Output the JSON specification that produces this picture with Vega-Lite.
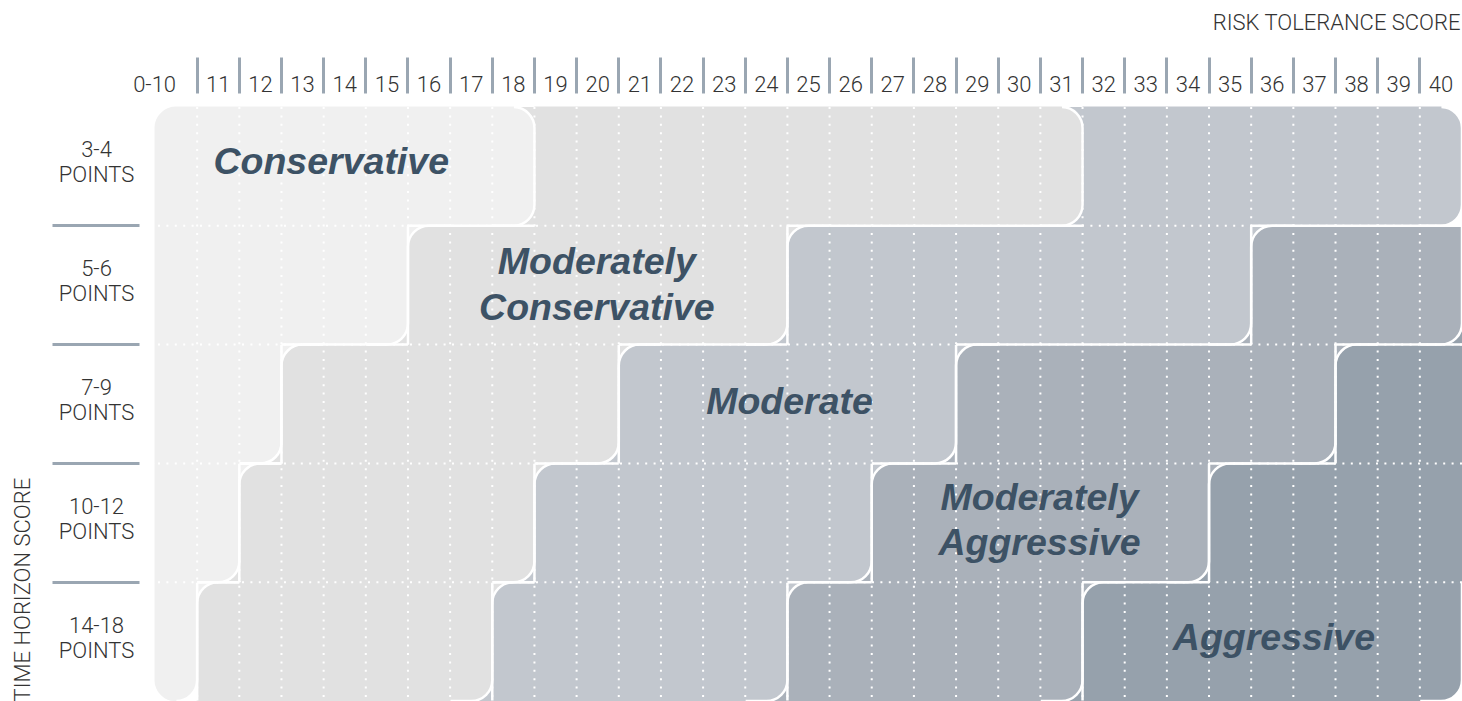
{
  "$schema": "https://vega.github.io/schema/vega-lite/v6.json",
  "width": 1307,
  "height": 594,
  "autosize": {"type": "none"},
  "padding": {"left": 155, "top": 107, "right": 0, "bottom": 0},
  "background": "white",
  "config": {"view": {"stroke": null}},
  "datasets": {
    "cells": [
      {"r":"3-4","t":3,"s":10,"g":"Conservative"},{"r":"3-4","t":3,"s":11,"g":"Conservative"},{"r":"3-4","t":3,"s":12,"g":"Conservative"},{"r":"3-4","t":3,"s":13,"g":"Conservative"},{"r":"3-4","t":3,"s":14,"g":"Conservative"},{"r":"3-4","t":3,"s":15,"g":"Conservative"},{"r":"3-4","t":3,"s":16,"g":"Conservative"},{"r":"3-4","t":3,"s":17,"g":"Conservative"},{"r":"3-4","t":3,"s":18,"g":"Conservative"},
      {"r":"3-4","t":3,"s":19,"g":"Moderately Conservative"},{"r":"3-4","t":3,"s":20,"g":"Moderately Conservative"},{"r":"3-4","t":3,"s":21,"g":"Moderately Conservative"},{"r":"3-4","t":3,"s":22,"g":"Moderately Conservative"},{"r":"3-4","t":3,"s":23,"g":"Moderately Conservative"},{"r":"3-4","t":3,"s":24,"g":"Moderately Conservative"},{"r":"3-4","t":3,"s":25,"g":"Moderately Conservative"},{"r":"3-4","t":3,"s":26,"g":"Moderately Conservative"},{"r":"3-4","t":3,"s":27,"g":"Moderately Conservative"},{"r":"3-4","t":3,"s":28,"g":"Moderately Conservative"},{"r":"3-4","t":3,"s":29,"g":"Moderately Conservative"},{"r":"3-4","t":3,"s":30,"g":"Moderately Conservative"},{"r":"3-4","t":3,"s":31,"g":"Moderately Conservative"},
      {"r":"3-4","t":3,"s":32,"g":"Moderate"},{"r":"3-4","t":3,"s":33,"g":"Moderate"},{"r":"3-4","t":3,"s":34,"g":"Moderate"},{"r":"3-4","t":3,"s":35,"g":"Moderate"},{"r":"3-4","t":3,"s":36,"g":"Moderate"},{"r":"3-4","t":3,"s":37,"g":"Moderate"},{"r":"3-4","t":3,"s":38,"g":"Moderate"},{"r":"3-4","t":3,"s":39,"g":"Moderate"},{"r":"3-4","t":3,"s":40,"g":"Moderate"},

      {"r":"5-6","t":5,"s":10,"g":"Conservative"},{"r":"5-6","t":5,"s":11,"g":"Conservative"},{"r":"5-6","t":5,"s":12,"g":"Conservative"},{"r":"5-6","t":5,"s":13,"g":"Conservative"},{"r":"5-6","t":5,"s":14,"g":"Conservative"},{"r":"5-6","t":5,"s":15,"g":"Conservative"},
      {"r":"5-6","t":5,"s":16,"g":"Moderately Conservative"},{"r":"5-6","t":5,"s":17,"g":"Moderately Conservative"},{"r":"5-6","t":5,"s":18,"g":"Moderately Conservative"},{"r":"5-6","t":5,"s":19,"g":"Moderately Conservative"},{"r":"5-6","t":5,"s":20,"g":"Moderately Conservative"},{"r":"5-6","t":5,"s":21,"g":"Moderately Conservative"},{"r":"5-6","t":5,"s":22,"g":"Moderately Conservative"},{"r":"5-6","t":5,"s":23,"g":"Moderately Conservative"},{"r":"5-6","t":5,"s":24,"g":"Moderately Conservative"},
      {"r":"5-6","t":5,"s":25,"g":"Moderate"},{"r":"5-6","t":5,"s":26,"g":"Moderate"},{"r":"5-6","t":5,"s":27,"g":"Moderate"},{"r":"5-6","t":5,"s":28,"g":"Moderate"},{"r":"5-6","t":5,"s":29,"g":"Moderate"},{"r":"5-6","t":5,"s":30,"g":"Moderate"},{"r":"5-6","t":5,"s":31,"g":"Moderate"},{"r":"5-6","t":5,"s":32,"g":"Moderate"},{"r":"5-6","t":5,"s":33,"g":"Moderate"},{"r":"5-6","t":5,"s":34,"g":"Moderate"},{"r":"5-6","t":5,"s":35,"g":"Moderate"},
      {"r":"5-6","t":5,"s":36,"g":"Moderately Aggressive"},{"r":"5-6","t":5,"s":37,"g":"Moderately Aggressive"},{"r":"5-6","t":5,"s":38,"g":"Moderately Aggressive"},{"r":"5-6","t":5,"s":39,"g":"Moderately Aggressive"},{"r":"5-6","t":5,"s":40,"g":"Moderately Aggressive"},

      {"r":"7-9","t":7,"s":10,"g":"Conservative"},{"r":"7-9","t":7,"s":11,"g":"Conservative"},{"r":"7-9","t":7,"s":12,"g":"Conservative"},
      {"r":"7-9","t":7,"s":13,"g":"Moderately Conservative"},{"r":"7-9","t":7,"s":14,"g":"Moderately Conservative"},{"r":"7-9","t":7,"s":15,"g":"Moderately Conservative"},{"r":"7-9","t":7,"s":16,"g":"Moderately Conservative"},{"r":"7-9","t":7,"s":17,"g":"Moderately Conservative"},{"r":"7-9","t":7,"s":18,"g":"Moderately Conservative"},{"r":"7-9","t":7,"s":19,"g":"Moderately Conservative"},{"r":"7-9","t":7,"s":20,"g":"Moderately Conservative"},
      {"r":"7-9","t":7,"s":21,"g":"Moderate"},{"r":"7-9","t":7,"s":22,"g":"Moderate"},{"r":"7-9","t":7,"s":23,"g":"Moderate"},{"r":"7-9","t":7,"s":24,"g":"Moderate"},{"r":"7-9","t":7,"s":25,"g":"Moderate"},{"r":"7-9","t":7,"s":26,"g":"Moderate"},{"r":"7-9","t":7,"s":27,"g":"Moderate"},{"r":"7-9","t":7,"s":28,"g":"Moderate"},
      {"r":"7-9","t":7,"s":29,"g":"Moderately Aggressive"},{"r":"7-9","t":7,"s":30,"g":"Moderately Aggressive"},{"r":"7-9","t":7,"s":31,"g":"Moderately Aggressive"},{"r":"7-9","t":7,"s":32,"g":"Moderately Aggressive"},{"r":"7-9","t":7,"s":33,"g":"Moderately Aggressive"},{"r":"7-9","t":7,"s":34,"g":"Moderately Aggressive"},{"r":"7-9","t":7,"s":35,"g":"Moderately Aggressive"},{"r":"7-9","t":7,"s":36,"g":"Moderately Aggressive"},{"r":"7-9","t":7,"s":37,"g":"Moderately Aggressive"},
      {"r":"7-9","t":7,"s":38,"g":"Aggressive"},{"r":"7-9","t":7,"s":39,"g":"Aggressive"},{"r":"7-9","t":7,"s":40,"g":"Aggressive"},

      {"r":"10-12","t":10,"s":10,"g":"Conservative"},{"r":"10-12","t":10,"s":11,"g":"Conservative"},
      {"r":"10-12","t":10,"s":12,"g":"Moderately Conservative"},{"r":"10-12","t":10,"s":13,"g":"Moderately Conservative"},{"r":"10-12","t":10,"s":14,"g":"Moderately Conservative"},{"r":"10-12","t":10,"s":15,"g":"Moderately Conservative"},{"r":"10-12","t":10,"s":16,"g":"Moderately Conservative"},{"r":"10-12","t":10,"s":17,"g":"Moderately Conservative"},{"r":"10-12","t":10,"s":18,"g":"Moderately Conservative"},
      {"r":"10-12","t":10,"s":19,"g":"Moderate"},{"r":"10-12","t":10,"s":20,"g":"Moderate"},{"r":"10-12","t":10,"s":21,"g":"Moderate"},{"r":"10-12","t":10,"s":22,"g":"Moderate"},{"r":"10-12","t":10,"s":23,"g":"Moderate"},{"r":"10-12","t":10,"s":24,"g":"Moderate"},{"r":"10-12","t":10,"s":25,"g":"Moderate"},{"r":"10-12","t":10,"s":26,"g":"Moderate"},
      {"r":"10-12","t":10,"s":27,"g":"Moderately Aggressive"},{"r":"10-12","t":10,"s":28,"g":"Moderately Aggressive"},{"r":"10-12","t":10,"s":29,"g":"Moderately Aggressive"},{"r":"10-12","t":10,"s":30,"g":"Moderately Aggressive"},{"r":"10-12","t":10,"s":31,"g":"Moderately Aggressive"},{"r":"10-12","t":10,"s":32,"g":"Moderately Aggressive"},{"r":"10-12","t":10,"s":33,"g":"Moderately Aggressive"},{"r":"10-12","t":10,"s":34,"g":"Moderately Aggressive"},
      {"r":"10-12","t":10,"s":35,"g":"Aggressive"},{"r":"10-12","t":10,"s":36,"g":"Aggressive"},{"r":"10-12","t":10,"s":37,"g":"Aggressive"},{"r":"10-12","t":10,"s":38,"g":"Aggressive"},{"r":"10-12","t":10,"s":39,"g":"Aggressive"},{"r":"10-12","t":10,"s":40,"g":"Aggressive"},

      {"r":"14-18","t":14,"s":10,"g":"Conservative"},
      {"r":"14-18","t":14,"s":11,"g":"Moderately Conservative"},{"r":"14-18","t":14,"s":12,"g":"Moderately Conservative"},{"r":"14-18","t":14,"s":13,"g":"Moderately Conservative"},{"r":"14-18","t":14,"s":14,"g":"Moderately Conservative"},{"r":"14-18","t":14,"s":15,"g":"Moderately Conservative"},{"r":"14-18","t":14,"s":16,"g":"Moderately Conservative"},{"r":"14-18","t":14,"s":17,"g":"Moderately Conservative"},
      {"r":"14-18","t":14,"s":18,"g":"Moderate"},{"r":"14-18","t":14,"s":19,"g":"Moderate"},{"r":"14-18","t":14,"s":20,"g":"Moderate"},{"r":"14-18","t":14,"s":21,"g":"Moderate"},{"r":"14-18","t":14,"s":22,"g":"Moderate"},{"r":"14-18","t":14,"s":23,"g":"Moderate"},{"r":"14-18","t":14,"s":24,"g":"Moderate"},
      {"r":"14-18","t":14,"s":25,"g":"Moderately Aggressive"},{"r":"14-18","t":14,"s":26,"g":"Moderately Aggressive"},{"r":"14-18","t":14,"s":27,"g":"Moderately Aggressive"},{"r":"14-18","t":14,"s":28,"g":"Moderately Aggressive"},{"r":"14-18","t":14,"s":29,"g":"Moderately Aggressive"},{"r":"14-18","t":14,"s":30,"g":"Moderately Aggressive"},{"r":"14-18","t":14,"s":31,"g":"Moderately Aggressive"},
      {"r":"14-18","t":14,"s":32,"g":"Aggressive"},{"r":"14-18","t":14,"s":33,"g":"Aggressive"},{"r":"14-18","t":14,"s":34,"g":"Aggressive"},{"r":"14-18","t":14,"s":35,"g":"Aggressive"},{"r":"14-18","t":14,"s":36,"g":"Aggressive"},{"r":"14-18","t":14,"s":37,"g":"Aggressive"},{"r":"14-18","t":14,"s":38,"g":"Aggressive"},{"r":"14-18","t":14,"s":39,"g":"Aggressive"},{"r":"14-18","t":14,"s":40,"g":"Aggressive"}
    ],
    "labels": [
      {"g":"Conservative","txt":"Conservative","r":"3-4","s":14},
      {"g":"Moderately Conservative","txt":"Moderately\nConservative","r":"5-6","s":20},
      {"g":"Moderate","txt":"Moderate","r":"7-9","s":25},
      {"g":"Moderately Aggressive","txt":"Moderately\nAggressive","r":"10-12","s":30},
      {"g":"Aggressive","txt":"Aggressive","r":"14-18","s":36}
    ]
  },
  "layer": [
    {
      "data": {"name": "cells"},
      "transform": [
        {"window": [{"op": "lag", "field": "g", "as": "above"}, {"op": "lead", "field": "g", "as": "below"}], "groupby": ["s"], "sort": [{"field": "t", "order": "ascending"}]},
        {"window": [{"op": "lag", "field": "g", "as": "left"}, {"op": "lead", "field": "g", "as": "right"}], "groupby": ["t"], "sort": [{"field": "s", "order": "ascending"}]}
      ],
      "encoding": {
        "x": {
          "field": "s", "type": "ordinal",
          "scale": {"paddingInner": 0, "paddingOuter": 0},
          "axis": {
            "orient": "top", "title": "RISK TOLERANCE SCORE", "offset": 14, "domain": false, "grid": false,
            "bandPosition": 0, "tickSize": 36, "tickWidth": 3, "tickColor": "#9aa6b2",
            "tickOpacity": {"condition": {"test": "datum.value == 10", "value": 0}, "value": 1},
            "labelExpr": "datum.value == 10 ? '0-10' : datum.label",
            "labelAngle": 0, "labelFont": "Roboto", "labelFontWeight": 300, "labelFontSize": 22, "labelColor": "#333333",
            "labelPadding": -34, "labelBaseline": "alphabetic",
            "labelAlign": {"condition": {"test": "datum.value == 10", "value": "right"}, "value": "center"},
            "labelOverlap": false, "labelBound": false, "labelFlush": false,
            "titleFont": "Roboto", "titleFontWeight": 300, "titleFontSize": 22, "titleColor": "#333333",
            "titleAlign": "right", "titleBaseline": "alphabetic", "titleX": 1305, "titleY": -64,
            "zindex": 1
          }
        },
        "y": {
          "field": "r", "type": "ordinal", "sort": ["3-4", "5-6", "7-9", "10-12", "14-18"],
          "scale": {"paddingInner": 0, "paddingOuter": 0},
          "axis": {
            "orient": "left", "title": "TIME HORIZON SCORE", "offset": 16, "domain": false, "grid": false,
            "bandPosition": 0, "tickSize": 87, "tickWidth": 3, "tickColor": "#9aa6b2",
            "tickOpacity": {"condition": {"test": "datum.value == '3-4'", "value": 0}, "value": 1},
            "labelExpr": "[datum.label, 'POINTS']",
            "labelAlign": "center", "labelBaseline": "middle", "labelPadding": -44, "labelOffset": -16, "labelLineHeight": 25,
            "labelFont": "Roboto", "labelFontWeight": 300, "labelFontSize": 22, "labelColor": "#333333",
            "labelOverlap": false, "labelBound": false,
            "titleFont": "Roboto", "titleFontWeight": 300, "titleFontSize": 22, "titleColor": "#333333",
            "titleAngle": 270, "titleAlign": "left", "titleBaseline": "alphabetic", "titleX": -109.5, "titleY": 594,
            "zindex": 1
          }
        }
      },
      "layer": [
        {
          "transform": [{"filter": "((datum.right != datum.g && datum.below != datum.g) || (datum.above == null && datum.right != datum.g)) && !(datum.left == null && datum.below == null) && datum.right != null"}],
          "mark": {"type": "rect"},
          "encoding": {"fill": {"field": "right", "type": "nominal", "scale": {"domain": ["Conservative", "Moderately Conservative", "Moderate", "Moderately Aggressive", "Aggressive"], "range": ["#f0f0f0", "#e1e1e1", "#c2c7ce", "#aab1ba", "#96a1ac"]}, "legend": null}}
        },
        {
          "transform": [{"filter": "datum.right == null && datum.below != null && datum.above != null && datum.below != datum.g"}],
          "mark": {"type": "rect"},
          "encoding": {"fill": {"field": "below", "type": "nominal", "scale": {"domain": ["Conservative", "Moderately Conservative", "Moderate", "Moderately Aggressive", "Aggressive"], "range": ["#f0f0f0", "#e1e1e1", "#c2c7ce", "#aab1ba", "#96a1ac"]}, "legend": null}}
        },
        {
          "transform": [{"filter": "datum.left != null && datum.left != datum.g && datum.above != datum.g && datum.above != null"}],
          "mark": {"type": "rect"},
          "encoding": {"fill": {"field": "left", "type": "nominal", "scale": {"domain": ["Conservative", "Moderately Conservative", "Moderate", "Moderately Aggressive", "Aggressive"], "range": ["#f0f0f0", "#e1e1e1", "#c2c7ce", "#aab1ba", "#96a1ac"]}, "legend": null}}
        },
        {
          "transform": [{"filter": "!(datum.left != datum.g && datum.above != datum.g && (datum.above != null || datum.left == null)) && !(datum.right != datum.g && datum.below != datum.g) && !(datum.above == null && datum.right != datum.g) && !(datum.left == null && datum.below == null)"}],
          "mark": {"type": "rect", "strokeWidth": 1},
          "encoding": {
            "fill": {"field": "g", "type": "nominal", "scale": {"domain": ["Conservative", "Moderately Conservative", "Moderate", "Moderately Aggressive", "Aggressive"], "range": ["#f0f0f0", "#e1e1e1", "#c2c7ce", "#aab1ba", "#96a1ac"]}, "legend": null},
            "stroke": {"field": "g", "type": "nominal", "scale": {"domain": ["Conservative", "Moderately Conservative", "Moderate", "Moderately Aggressive", "Aggressive"], "range": ["#f0f0f0", "#e1e1e1", "#c2c7ce", "#aab1ba", "#96a1ac"]}, "legend": null}
          }
        },
        {
          "transform": [{"filter": "datum.left != datum.g && datum.above != datum.g && (datum.above != null || datum.left == null)"}],
          "mark": {"type": "rect", "strokeWidth": 1, "cornerRadiusTopLeft": 21},
          "encoding": {
            "fill": {"field": "g", "type": "nominal", "scale": {"domain": ["Conservative", "Moderately Conservative", "Moderate", "Moderately Aggressive", "Aggressive"], "range": ["#f0f0f0", "#e1e1e1", "#c2c7ce", "#aab1ba", "#96a1ac"]}, "legend": null},
            "stroke": {"field": "g", "type": "nominal", "scale": {"domain": ["Conservative", "Moderately Conservative", "Moderate", "Moderately Aggressive", "Aggressive"], "range": ["#f0f0f0", "#e1e1e1", "#c2c7ce", "#aab1ba", "#96a1ac"]}, "legend": null}
          }
        },
        {
          "transform": [{"filter": "(datum.right != datum.g && datum.below != datum.g) && !(datum.above == null && datum.right != datum.g) && !(datum.left == null && datum.below == null)"}],
          "mark": {"type": "rect", "strokeWidth": 1, "cornerRadiusBottomRight": 21},
          "encoding": {
            "fill": {"field": "g", "type": "nominal", "scale": {"domain": ["Conservative", "Moderately Conservative", "Moderate", "Moderately Aggressive", "Aggressive"], "range": ["#f0f0f0", "#e1e1e1", "#c2c7ce", "#aab1ba", "#96a1ac"]}, "legend": null},
            "stroke": {"field": "g", "type": "nominal", "scale": {"domain": ["Conservative", "Moderately Conservative", "Moderate", "Moderately Aggressive", "Aggressive"], "range": ["#f0f0f0", "#e1e1e1", "#c2c7ce", "#aab1ba", "#96a1ac"]}, "legend": null}
          }
        },
        {
          "transform": [{"filter": "datum.above == null && datum.right != datum.g"}],
          "mark": {"type": "rect", "strokeWidth": 1, "cornerRadiusTopRight": 21, "cornerRadiusBottomRight": 21},
          "encoding": {
            "fill": {"field": "g", "type": "nominal", "scale": {"domain": ["Conservative", "Moderately Conservative", "Moderate", "Moderately Aggressive", "Aggressive"], "range": ["#f0f0f0", "#e1e1e1", "#c2c7ce", "#aab1ba", "#96a1ac"]}, "legend": null},
            "stroke": {"field": "g", "type": "nominal", "scale": {"domain": ["Conservative", "Moderately Conservative", "Moderate", "Moderately Aggressive", "Aggressive"], "range": ["#f0f0f0", "#e1e1e1", "#c2c7ce", "#aab1ba", "#96a1ac"]}, "legend": null}
          }
        },
        {
          "transform": [{"filter": "datum.left == null && datum.below == null"}],
          "mark": {"type": "rect", "strokeWidth": 1, "cornerRadiusBottomLeft": 21, "cornerRadiusBottomRight": 21},
          "encoding": {
            "fill": {"field": "g", "type": "nominal", "scale": {"domain": ["Conservative", "Moderately Conservative", "Moderate", "Moderately Aggressive", "Aggressive"], "range": ["#f0f0f0", "#e1e1e1", "#c2c7ce", "#aab1ba", "#96a1ac"]}, "legend": null},
            "stroke": {"field": "g", "type": "nominal", "scale": {"domain": ["Conservative", "Moderately Conservative", "Moderate", "Moderately Aggressive", "Aggressive"], "range": ["#f0f0f0", "#e1e1e1", "#c2c7ce", "#aab1ba", "#96a1ac"]}, "legend": null}
          }
        },
        {
          "transform": [{"filter": "datum.above != null && datum.above != datum.g && !(datum.left != datum.g)"}],
          "mark": {"type": "rect", "fill": "white", "fillOpacity": 0, "stroke": "white", "strokeWidth": 2.5, "strokeDash": [42.2, 400]},
          "encoding": {}
        },
        {
          "transform": [{"filter": "datum.above != null && datum.above != datum.g && datum.left != datum.g && datum.left != null && !(datum.right != datum.g && datum.below != datum.g)"}],
          "mark": {"type": "rect", "fill": "white", "fillOpacity": 0, "stroke": "white", "strokeWidth": 2.5, "strokeDash": [42.2, 400]},
          "encoding": {}
        },
        {
          "transform": [{"filter": "datum.left != datum.g && datum.above != datum.g && datum.above != null"}],
          "mark": {"type": "rect", "fill": "white", "fillOpacity": 0, "stroke": "white", "strokeWidth": 2.5, "cornerRadiusTopLeft": 21, "strokeDash": [21.2, 161.5, 140]},
          "encoding": {}
        },
        {
          "transform": [{"filter": "(datum.right != datum.g && datum.below != datum.g) && !(datum.above == null && datum.right != datum.g) && !(datum.left == null && datum.below == null)"}],
          "mark": {"type": "rect", "fill": "white", "fillOpacity": 0, "stroke": "white", "strokeWidth": 2.5, "cornerRadiusBottomRight": 21, "strokeDash": [0, 42.6, 151, 200]},
          "encoding": {}
        },
        {
          "transform": [{"filter": "datum.above == null && datum.right != datum.g"}],
          "mark": {"type": "rect", "fill": "white", "fillOpacity": 0, "stroke": "white", "strokeWidth": 2.5, "cornerRadiusTopRight": 21, "cornerRadiusBottomRight": 21, "strokeDash": [0, 21.6, 163.5, 200]},
          "encoding": {}
        },
        {
          "transform": [{"filter": "datum.left == null && datum.below == null"}],
          "mark": {"type": "rect", "fill": "white", "fillOpacity": 0, "stroke": "white", "strokeWidth": 2.5, "cornerRadiusBottomLeft": 21, "cornerRadiusBottomRight": 21, "strokeDash": [0, 42.6, 130, 300]},
          "encoding": {}
        }
      ]
    },
    {
      "data": {"name": "cells"},
      "transform": [{"filter": "datum.t == 3 && datum.s > 10"}],
      "mark": {"type": "rule", "color": "white", "strokeWidth": 2, "strokeDash": [2, 6.4]},
      "encoding": {"x": {"field": "s", "type": "ordinal", "bandPosition": 0}}
    },
    {
      "data": {"name": "cells"},
      "transform": [{"filter": "datum.s == 10 && datum.t > 3"}],
      "mark": {"type": "rule", "color": "white", "strokeWidth": 2, "strokeDash": [2, 6.4]},
      "encoding": {"y": {"field": "r", "type": "ordinal", "sort": ["3-4", "5-6", "7-9", "10-12", "14-18"], "bandPosition": 0}}
    },
    {
      "data": {"name": "labels"},
      "transform": [{"filter": "datum.g == 'Conservative'"}],
      "mark": {"type": "text", "font": "Liberation Sans", "fontSize": 37.5, "fontStyle": "italic", "fontWeight": "bold", "color": "#3d5265", "align": "center", "baseline": "alphabetic", "dy": 8, "lineBreak": "\n", "lineHeight": 46},
      "encoding": {
        "x": {"field": "s", "type": "ordinal", "bandPosition": 0.18},
        "y": {"field": "r", "type": "ordinal", "sort": ["3-4", "5-6", "7-9", "10-12", "14-18"]},
        "text": {"field": "txt"}
      }
    },
    {
      "data": {"name": "labels"},
      "transform": [{"filter": "datum.g == 'Moderately Conservative'"}],
      "mark": {"type": "text", "font": "Liberation Sans", "fontSize": 37.5, "fontStyle": "italic", "fontWeight": "bold", "color": "#3d5265", "align": "center", "baseline": "alphabetic", "dy": -11, "lineBreak": "\n", "lineHeight": 46},
      "encoding": {
        "x": {"field": "s", "type": "ordinal", "bandPosition": 0.48},
        "y": {"field": "r", "type": "ordinal", "sort": ["3-4", "5-6", "7-9", "10-12", "14-18"]},
        "text": {"field": "txt"}
      }
    },
    {
      "data": {"name": "labels"},
      "transform": [{"filter": "datum.g == 'Moderate'"}],
      "mark": {"type": "text", "font": "Liberation Sans", "fontSize": 37.5, "fontStyle": "italic", "fontWeight": "bold", "color": "#3d5265", "align": "center", "baseline": "alphabetic", "dy": 10, "lineBreak": "\n", "lineHeight": 46},
      "encoding": {
        "x": {"field": "s", "type": "ordinal", "bandPosition": 0.05},
        "y": {"field": "r", "type": "ordinal", "sort": ["3-4", "5-6", "7-9", "10-12", "14-18"]},
        "text": {"field": "txt"}
      }
    },
    {
      "data": {"name": "labels"},
      "transform": [{"filter": "datum.g == 'Moderately Aggressive'"}],
      "mark": {"type": "text", "font": "Liberation Sans", "fontSize": 37.5, "fontStyle": "italic", "fontWeight": "bold", "color": "#3d5265", "align": "center", "baseline": "alphabetic", "dy": -13, "lineBreak": "\n", "lineHeight": 45},
      "encoding": {
        "x": {"field": "s", "type": "ordinal", "bandPosition": 0.98},
        "y": {"field": "r", "type": "ordinal", "sort": ["3-4", "5-6", "7-9", "10-12", "14-18"]},
        "text": {"field": "txt"}
      }
    },
    {
      "data": {"name": "labels"},
      "transform": [{"filter": "datum.g == 'Aggressive'"}],
      "mark": {"type": "text", "font": "Liberation Sans", "fontSize": 37.5, "fontStyle": "italic", "fontWeight": "bold", "color": "#3d5265", "align": "center", "baseline": "alphabetic", "dy": 8, "lineBreak": "\n", "lineHeight": 46},
      "encoding": {
        "x": {"field": "s", "type": "ordinal", "bandPosition": 0.54},
        "y": {"field": "r", "type": "ordinal", "sort": ["3-4", "5-6", "7-9", "10-12", "14-18"]},
        "text": {"field": "txt"}
      }
    }
  ]
}
